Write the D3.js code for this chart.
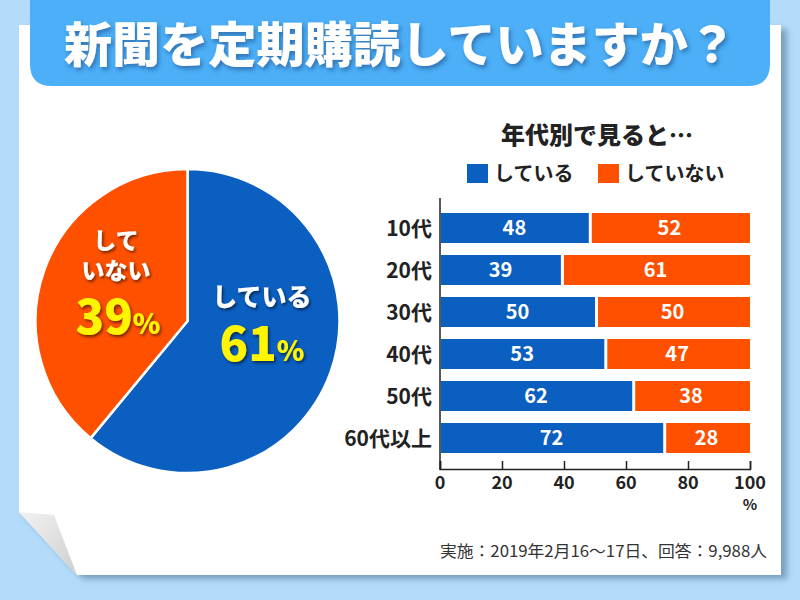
<!DOCTYPE html>
<html><head><meta charset="utf-8">
<script src="https://cdn.jsdelivr.net/npm/d3@7"></script>
<style>
html,body{margin:0;padding:0;background:#b4dcfa;}
svg{display:block;font-family:"Noto Sans CJK JP","Noto Sans",sans-serif;}
</style></head>
<body>
<svg id="c" width="800" height="600"></svg>
<script>
const titleText = "新聞を定期購読していますか？";
const pieLabels = ["している","していない"];
const pieValues = [61, 39];
const categories = ["10代","20代","30代","40代","50代","60代以上"];
const yesValues = [48, 39, 50, 53, 62, 72];
const noValues  = [52, 61, 50, 47, 38, 28];
const xTicks = [0, 20, 40, 60, 80, 100];
const chartTitle = "年代別で見ると…";
const legendLabels = ["している","していない"];
const footnote = "実施：2019年2月16〜17日、回答：9,988人";

const BLUE = "#0b5fc1", ORANGE = "#ff5000", YELLOW = "#fff500";
const svg = d3.select("#c");
const defs = svg.append("defs");
const sh = defs.append("filter").attr("id","shadow").attr("x","-20%").attr("y","-20%").attr("width","140%").attr("height","140%");
sh.append("feDropShadow").attr("dx",1.5).attr("dy",2).attr("stdDeviation",1.5).attr("flood-color","#000").attr("flood-opacity",0.55);
const tsh = defs.append("filter").attr("id","tshadow").attr("x","-10%").attr("y","-20%").attr("width","120%").attr("height","150%");
tsh.append("feDropShadow").attr("dx",2).attr("dy",3).attr("stdDeviation",2).attr("flood-color","#1a4f8a").attr("flood-opacity",0.6);
const csh = defs.append("filter").attr("id","cshadow").attr("x","-5%").attr("y","-5%").attr("width","115%").attr("height","115%");
csh.append("feDropShadow").attr("dx",6).attr("dy",4).attr("stdDeviation",3).attr("flood-color","#4f7596").attr("flood-opacity",0.6);
const fg = defs.append("linearGradient").attr("id","fold").attr("x1","0").attr("y1","0").attr("x2","1").attr("y2","1");
fg.append("stop").attr("offset","0").attr("stop-color","#f2f2f2");
fg.append("stop").attr("offset","1").attr("stop-color","#cfcfcf");

// background
svg.append("rect").attr("width",800).attr("height",600).attr("fill","#b4dcfa");
// card
svg.append("path").attr("d","M19,25 L781,25 L781,575 L77,575 L19,512 Z").attr("fill","#fff").attr("filter","url(#cshadow)");
svg.append("path").attr("d","M19,512 L54,515 L77,575 Z").attr("fill","url(#fold)");

// banner
svg.append("path").attr("d","M30,0 L770,0 L770,64 Q770,86 748,86 L52,86 Q30,86 30,64 Z").attr("fill","#4caff7");
svg.append("text").attr("x",400).attr("y",62).attr("text-anchor","middle")
  .attr("font-size",48).attr("font-weight",900).attr("fill","#fff")
  .attr("textLength",672).attr("lengthAdjust","spacingAndGlyphs")
  .attr("filter","url(#tshadow)").text(titleText);

// pie
const cx = 187.5, cy = 321, R = 152;
const pie = d3.pie().sort(null).value(d=>d)
  .startAngle(0).endAngle(2*Math.PI);
const arcs = pie(pieValues);
const arc = d3.arc().innerRadius(0).outerRadius(R);
const pg = svg.append("g").attr("transform",`translate(${cx},${cy})`);
pg.selectAll("path").data(arcs).join("path")
  .attr("d",arc).attr("fill",(d,i)=>i===0?BLUE:ORANGE)
  .attr("stroke","#fff").attr("stroke-width",2.5).attr("stroke-linejoin","round");

// pie labels (multi-line text elements)
const lt = svg.append("g").attr("filter","url(#shadow)").attr("font-weight",900).attr("text-anchor","middle");
const tNo = lt.append("text").attr("y",249);
tNo.append("tspan").attr("x",116).attr("font-size",23).attr("fill","#fff").text("して");
tNo.append("tspan").attr("x",116).attr("dy",30).attr("font-size",23).attr("fill","#fff").text("いない");
tNo.append("tspan").attr("x",118).attr("dy",55).attr("font-size",47).attr("fill",YELLOW).text(pieValues[1]);
tNo.append("tspan").attr("font-size",28).attr("fill",YELLOW).text("%");
const tYes = lt.append("text").attr("y",306);
tYes.append("tspan").attr("x",262).attr("font-size",25).attr("fill","#fff").text(pieLabels[0]);
tYes.append("tspan").attr("x",262).attr("dy",55).attr("font-size",47).attr("fill",YELLOW).text(pieValues[0]);
tYes.append("tspan").attr("font-size",28).attr("fill",YELLOW).text("%");

// bar chart
const x = d3.scaleLinear().domain([0,100]).range([440,750]);
const y = d3.scaleBand().domain(categories).range([207,459]).paddingInner(12/42).paddingOuter(6/42);
const bg = svg.append("g");
const rows = bg.selectAll("g.row").data(categories).join("g").attr("class","row");
rows.append("rect").attr("x",x(0)+1).attr("y",c=>y(c))
  .attr("width",(c,i)=>x(yesValues[i])-x(0)-1).attr("height",y.bandwidth()).attr("fill",BLUE);
rows.append("rect").attr("x",(c,i)=>x(yesValues[i])+3).attr("y",c=>y(c))
  .attr("width",(c,i)=>x(100)-x(yesValues[i])-3).attr("height",y.bandwidth()).attr("fill",ORANGE);
rows.append("text").attr("x",(c,i)=>(x(0)+x(yesValues[i]))/2).attr("y",c=>y(c)+y.bandwidth()/2+7)
  .attr("text-anchor","middle").attr("font-size",20).attr("font-weight",700).attr("fill","#fff")
  .text((c,i)=>yesValues[i]);
rows.append("text").attr("x",(c,i)=>(x(yesValues[i])+x(100))/2).attr("y",c=>y(c)+y.bandwidth()/2+7)
  .attr("text-anchor","middle").attr("font-size",20).attr("font-weight",700).attr("fill","#fff")
  .text((c,i)=>noValues[i]);
rows.append("text").attr("x",432).attr("y",c=>y(c)+y.bandwidth()/2+7.5)
  .attr("text-anchor","end").attr("font-size",21).attr("font-weight",700).attr("fill","#222")
  .text(c=>c);

// axes
const axisY = 469;
svg.append("line").attr("x1",440).attr("x2",440).attr("y1",198).attr("y2",axisY+1).attr("stroke","#222").attr("stroke-width",1.5);
const xa = svg.append("g").attr("transform",`translate(0,${axisY})`)
  .call(d3.axisTop(x).tickValues(xTicks).tickSize(8).tickFormat(""));
xa.select(".domain").attr("stroke","#222").attr("stroke-width",1.5);
xa.selectAll(".tick line").attr("stroke","#222").attr("stroke-width",1.5);
svg.append("g").selectAll("text").data(xTicks).join("text")
  .attr("x",d=>x(d)).attr("y",axisY+20).attr("text-anchor","middle")
  .attr("font-size",18).attr("font-weight",700).attr("fill","#222").text(d=>d);
svg.append("text").attr("x",750).attr("y",510).attr("text-anchor","middle")
  .attr("font-size",15).attr("font-weight",700).attr("fill","#222").text("%");

// chart title & legend
svg.append("text").attr("x",597).attr("y",144).attr("text-anchor","middle")
  .attr("font-size",24).attr("font-weight",900).attr("fill","#222").text(chartTitle);
const legX = [467, 598];
const lg = svg.append("g").selectAll("g").data(legendLabels).join("g");
lg.append("rect").attr("x",(d,i)=>legX[i]).attr("y",164).attr("width",21).attr("height",19)
  .attr("fill",(d,i)=>i===0?BLUE:ORANGE);
lg.append("text").attr("x",(d,i)=>legX[i]+27).attr("y",181).attr("font-size",20).attr("font-weight",700)
  .attr("fill","#222").text(d=>d);

// footnote
svg.append("text").attr("x",767).attr("y",557).attr("text-anchor","end")
  .attr("font-size",16).attr("fill","#333")
  .attr("textLength",327).attr("lengthAdjust","spacingAndGlyphs").text(footnote);
</script>
</body></html>
